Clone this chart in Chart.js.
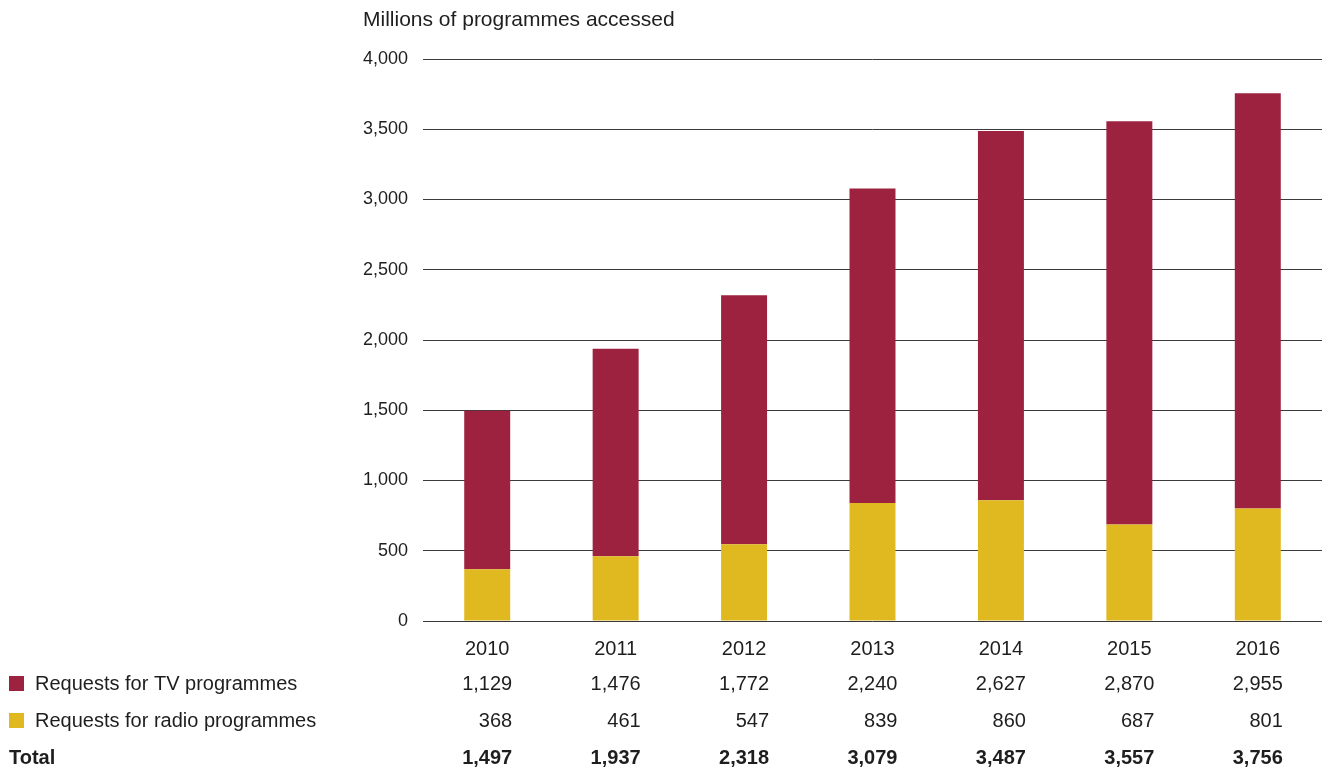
<!DOCTYPE html>
<html>
<head>
<meta charset="utf-8">
<script src="https://cdn.jsdelivr.net/npm/chart.js@4.4.1/dist/chart.umd.min.js"></script>
<style>
  html, body { margin: 0; padding: 0; background: #fff; }
  #wrap { width: 1325px; height: 771px; position: relative; }
</style>
</head>
<body>
<div id="wrap"><canvas id="chart"></canvas></div>
<script>
const years = ['2010', '2011', '2012', '2013', '2014', '2015', '2016'];
const tvRequests = [1129, 1476, 1772, 2240, 2627, 2870, 2955];
const radioRequests = [368, 461, 547, 839, 860, 687, 801];
const totals = [1497, 1937, 2318, 3079, 3487, 3557, 3756];
const yTicks = [0, 500, 1000, 1500, 2000, 2500, 3000, 3500, 4000];

const TV_COLOUR = '#9c2240';
const RADIO_COLOUR = '#e0b920';
const TEXT_COLOUR = '#1e1e1e';
const FONT = '"Liberation Sans", Arial, sans-serif';
const BAR_PCT = 0.358;

const fmt = n => n.toLocaleString('en-GB');

// table rows under the axis: legend swatch + label on the left, values under each bar
const tableRows = [
    { label: 'Requests for TV programmes', colour: TV_COLOUR, values: tvRequests, y: 684, bold: false },
    { label: 'Requests for radio programmes', colour: RADIO_COLOUR, values: radioRequests, y: 721, bold: false },
    { label: 'Total', colour: null, values: totals, y: 758, bold: true }
];

const tablePlugin = {
    id: 'dataTable',
    afterDraw(chart) {
        const ctx = chart.ctx;
        const x = chart.scales.x;
        const half = (x.width / years.length) * BAR_PCT / 2;
        ctx.save();
        ctx.fillStyle = TEXT_COLOUR;
        ctx.textBaseline = 'middle';

        // axis caption
        ctx.font = '21px ' + FONT;
        ctx.textAlign = 'left';
        ctx.fillText('Millions of programmes accessed', 363, 20);

        tableRows.forEach(row => {
            ctx.font = (row.bold ? 'bold ' : '') + '20px ' + FONT;
            ctx.textAlign = 'left';
            let textX = 9;
            if (row.colour) {
                ctx.fillStyle = row.colour;
                ctx.fillRect(9, row.y - 8, 15, 15);
                textX = 35;
            }
            ctx.fillStyle = TEXT_COLOUR;
            ctx.fillText(row.label, textX, row.y);
            ctx.textAlign = 'right';
            row.values.forEach((v, i) => {
                ctx.fillText(fmt(v), x.getPixelForValue(i) + half + 2, row.y);
            });
        });
        ctx.restore();
    }
};

new Chart(document.getElementById('chart'), {
    type: 'bar',
    data: {
        labels: years,
        datasets: [
            { label: 'Requests for radio programmes', data: radioRequests, backgroundColor: RADIO_COLOUR },
            { label: 'Requests for TV programmes', data: tvRequests, backgroundColor: TV_COLOUR }
        ]
    },
    options: {
        responsive: true,
        maintainAspectRatio: false,
        animation: false,
        datasets: { bar: { categoryPercentage: 1, barPercentage: BAR_PCT } },
        layout: { padding: { top: 59, right: 3, left: 0, bottom: 0 } },
        plugins: { legend: { display: false }, tooltip: { enabled: false } },
        scales: {
            x: {
                stacked: true,
                grid: { display: false },
                border: { display: false },
                ticks: { color: TEXT_COLOUR, font: { family: FONT, size: 20 }, padding: 8 },
                afterFit: s => { s.height = 150; }
            },
            y: {
                stacked: true,
                min: 0,
                max: 4000,
                afterBuildTicks: s => { s.ticks = yTicks.map(v => ({ value: v })); },
                grid: { color: '#3a3a3a', lineWidth: 1, drawTicks: false },
                border: { display: false },
                ticks: {
                    color: TEXT_COLOUR,
                    font: { family: FONT, size: 18 },
                    padding: 15,
                    callback: v => fmt(v)
                },
                afterFit: s => { s.width = 423; }
            }
        }
    },
    plugins: [tablePlugin]
});
</script>
</body>
</html>
